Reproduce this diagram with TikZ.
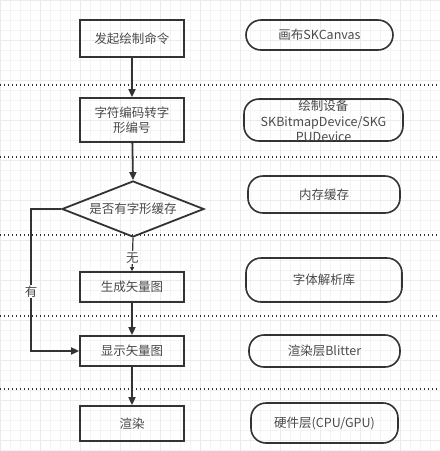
\documentclass[tikz,border=0pt]{standalone}
\usepackage{fontspec}
\setmainfont{Noto Sans CJK SC}
\usetikzlibrary{arrows.meta,shapes.geometric}
\definecolor{ln}{HTML}{333333}
\definecolor{tx}{HTML}{4A4A4A}
\tikzset{
  procbox/.style={draw=ln,line width=1.8pt,minimum width=104pt,minimum height=#1,inner sep=0pt,text=tx,font=\fontsize{12.5}{15}\selectfont,align=center},
  layerbox/.style={draw=ln,line width=1.6pt,rounded corners=15pt,minimum height=#1,inner sep=0pt,text=tx,font=\fontsize{12.5}{15}\selectfont,align=center},
  sep/.style={ln,line width=1.6pt,dash pattern=on 1.4pt off 2.6pt},
  flow/.style={ln,line width=1.8pt,-{Triangle[width=7pt,length=8pt]}},
  lbl/.style={fill=white,inner sep=1pt,text=tx,font=\fontsize{12.5}{15}\selectfont}
}
\begin{document}
\begin{tikzpicture}[x=1pt,y=-1pt]
\useasboundingbox (0,0) rectangle (440,451);
\fill[white] (0,0) rectangle (440,451);
\draw[gray!9,line width=0.5pt] (0,0) grid[step=10pt] (440,451);
\draw[gray!16,line width=0.6pt] (0,0) grid[step=40pt] (440,451);
% separators
\foreach \yy/\nm in {85/s1,157/s2,235/s3,316/s4,389/s5}{
  \coordinate (\nm a) at (0,\yy); \coordinate (\nm b) at (440,\yy);
  \draw[sep] (\nm a) -- (\nm b);
}
% left column
\node[procbox=37pt] (b1) at (132,38.5) {发起绘制命令};
\node[procbox=44pt] (b2) at (132,120) {字符编码转字\\形编号};
\node[draw=ln,line width=1.8pt,diamond,aspect=2.55,minimum width=142pt,minimum height=56pt,inner sep=0pt,text=tx,font=\fontsize{12.5}{15}\selectfont] (d) at (133,209) {是否有字形缓存};
\node[procbox=30pt] (b3) at (132,287) {生成矢量图};
\node[procbox=30pt] (b4) at (132,351) {显示矢量图};
\node[procbox=35pt] (b5) at (132,423.5) {渲染};
% right column
\node[layerbox=30pt,minimum width=147pt] (r1) at (319.5,35) {画布SKCanvas};
\node[layerbox=42pt,minimum width=159pt] (r2) at (323.5,120) {};
\node[text=tx,font=\fontsize{12.5}{15.5}\selectfont,align=center] (r2t) at (323.5,121) {绘制设备\\SKBitmapDevice/SKG\\PUDevice};
\node[layerbox=37pt,minimum width=152pt] (r3) at (324,194.5) {内存缓存};
\node[layerbox=44pt,minimum width=156pt] (r4) at (324,280) {字体解析库};
\node[layerbox=32pt,minimum width=151pt] (r5) at (324.5,351) {渲染层Blitter};
\node[layerbox=40pt,minimum width=147pt] (r6) at (324.5,423) {硬件层(CPU/GPU)};
% connectors
\draw[flow] (b1) -- (b2);
\draw[flow] (b2) -- (d.north);
\draw[ln,line width=1.2pt,-{Triangle[width=4pt,length=4pt]}] (d.south) -- node[lbl,pos=0.6] {无} (b3.north);
\draw[flow] (b3) -- (b4);
\draw[flow] (b4) -- (b5);
\coordinate (lt) at (31,209);
\coordinate (lb) at (31,351);
\draw[flow] (d.west) -- (lt) -- node[lbl,pos=0.58] {有} (lb) -- (b4.west);
\end{tikzpicture}
\end{document}
